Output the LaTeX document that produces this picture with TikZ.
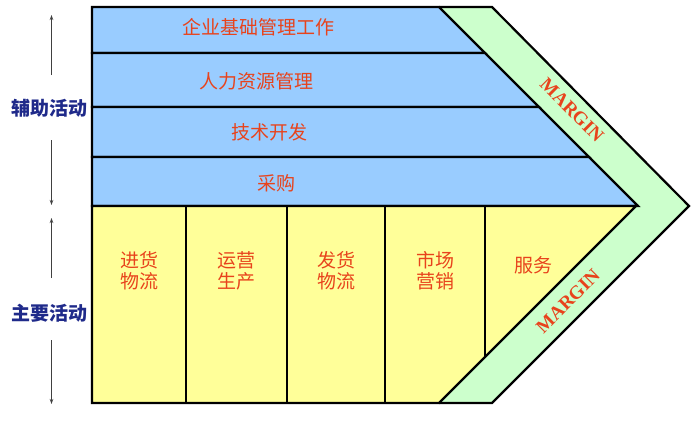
\documentclass[tikz,border=0pt]{standalone}
\usepackage{fontspec}
\setmainfont{Liberation Serif}
\newfontfamily\cjk{Noto Sans CJK SC}
\usepackage{tikz}
\usetikzlibrary{arrows.meta}
\definecolor{bandB}{HTML}{99CCFF}
\definecolor{colY}{HTML}{FFFF99}
\definecolor{margG}{HTML}{CCFFCC}
\definecolor{txtR}{HTML}{E8431C}
\definecolor{txtN}{HTML}{1F2A8A}

\begin{document}
\begin{tikzpicture}[x=1pt, y=-1pt, line join=miter,
  box/.style={draw=black, line width=2.2pt},
  lab/.style={font=\cjk\fontsize{19}{21}\selectfont, text=txtR, inner sep=0pt, align=center},
  side/.style={font=\cjk\bfseries\fontsize{19}{21}\selectfont, text=txtN, inner sep=1pt},
  marg/.style={font=\bfseries\fontsize{19}{20}\selectfont, text=txtR, inner sep=0pt},
  updown/.style={-{Stealth[length=5pt, width=3.5pt]}, line width=0.8pt, draw=black!75}]
  \useasboundingbox (0,0) rectangle (700,420);

  % margin band
  \fill[margG] (439,7) -- (492,7) -- (689,206) -- (492,403) -- (439,403) -- (636,206) -- cycle;
  \draw[box] (439,7) -- (492,7) -- (689,206) -- (492,403) -- (439,403);

  % support activities
  \foreach \ya/\yb in {7/53, 53/107, 107/157, 157/206}{
    \filldraw[box, fill=bandB] (92,\ya) -- (432+\ya,\ya) -- (432+\yb,\yb) -- (92,\yb) -- cycle;
  }
  \foreach \x/\y/\lab/\n in {
    258/27/企业基础管理工作/firm,
    256/81/人力资源管理/hrm,
    269/132/技术开发/tech,
    276/183/采购/proc}{
    \node[lab] (\n) at (\x,\y) {\lab};
  }

  % primary activities
  \filldraw[box, fill=colY] (92,206) -- (636,206) -- (439,403) -- (92,403) -- cycle;
  \foreach \x in {186, 287, 385}{
    \draw[box] (\x,206) -- (\x,403);
  }
  \draw[box] (485,206) -- (485,357);
  \foreach \x/\lab/\n in {
    139/进货\\物流/inb,
    236/运营\\生产/ops,
    336/发货\\物流/outb,
    435/市场\\营销/mkt}{
    \node[lab] (\n) at (\x,271) {\lab};
  }
  \node[lab] (serv) at (533,265) {服务};

  \node[marg, rotate=-45] (margU) at (572,110) {MARGIN};
  \node[marg, rotate=45] (margL) at (568,301) {MARGIN};

  % left side labels
  \node[side] (supp) at (49,108) {辅助活动};
  \node[side] (prim) at (49,313) {主要活动};
  \coordinate (suppA) at (51.5,75);
  \coordinate (suppT) at (51.5,15);
  \coordinate (suppB) at (51.5,140);
  \coordinate (suppD) at (51.5,205);
  \coordinate (primA) at (51.5,278);
  \coordinate (primT) at (51.5,218);
  \coordinate (primB) at (51.5,340);
  \coordinate (primD) at (51.5,404);
  \draw[updown] (suppA) -- (suppT);
  \draw[updown] (suppB) -- (suppD);
  \draw[updown] (primA) -- (primT);
  \draw[updown] (primB) -- (primD);
\end{tikzpicture}
\end{document}
